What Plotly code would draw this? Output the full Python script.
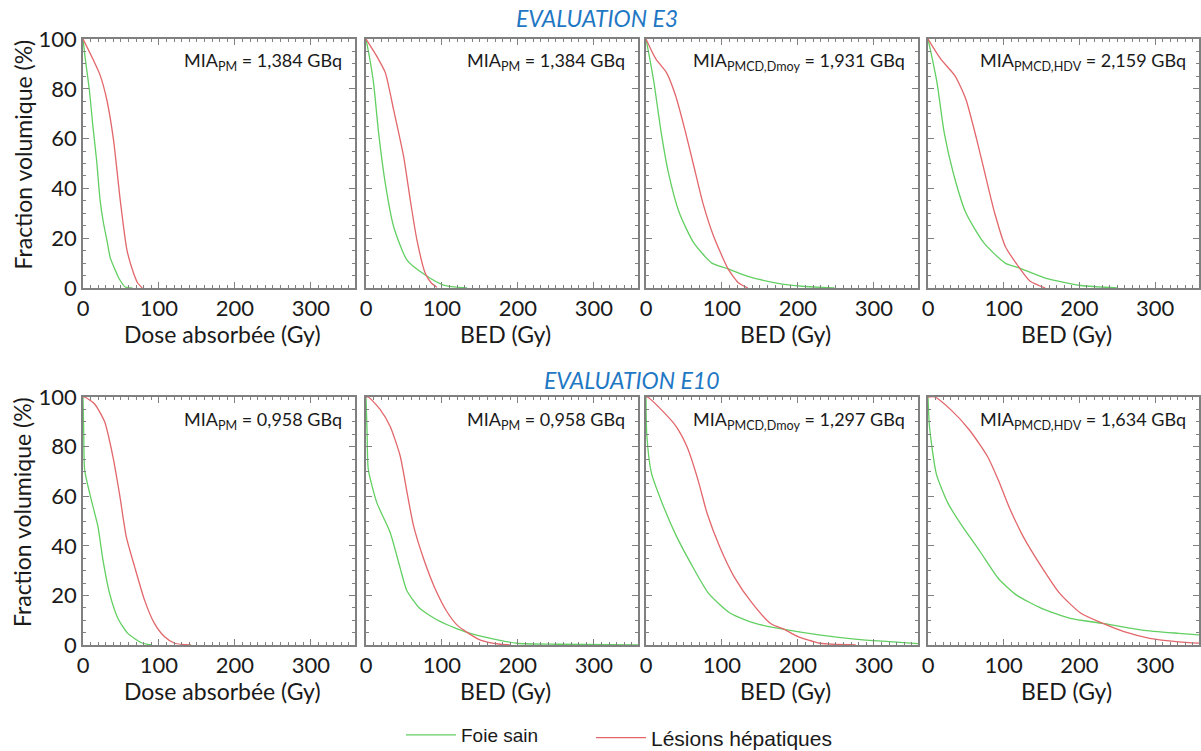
import plotly.graph_objects as go

W, H = 1201, 751

# ---------------- data ----------------
x_ticks = [0, 100, 200, 300]
y_ticks = [0, 20, 40, 60, 80, 100]

# E3 - Dose absorbée, MIA_PM
e3_dose_foie_x = [0, 3, 8.4, 13, 18, 22.5, 27, 31.4, 36, 42.4, 48, 55.6, 65]
e3_dose_foie_y = [100, 92, 79.5, 65, 51, 35.3, 26, 19.3, 12, 7.2, 3.5, 0.4, 0]
e3_dose_les_x = [0, 11.5, 22.5, 31.4, 40.2, 49, 57.8, 66.6, 72, 78]
e3_dose_les_y = [100, 92.9, 85.5, 75.5, 59.4, 35.3, 15.3, 5.9, 2, 0]

# E3 - BED, MIA_PM
e3_bedpm_foie_x = [0, 5, 10, 16.7, 25.4, 36.4, 54, 78, 102, 133]
e3_bedpm_foie_y = [100, 92, 82.2, 62, 42, 24.6, 11.2, 5.2, 1.2, 0]
e3_bedpm_les_x = [0, 14.5, 25.4, 36.4, 49.6, 58.3, 67, 78, 86, 93.4]
e3_bedpm_les_y = [100, 92.9, 86.5, 71.5, 52.7, 35.3, 19.3, 5.9, 2, 0.3]

# E3 - BED, MIA_PMCD,Dmoy
e3_dmoy_foie_x = [0, 5, 10.5, 20, 29.5, 43.8, 62.9, 86.7, 108, 134, 172, 206, 248]
e3_dmoy_foie_y = [100, 92, 82.5, 62.4, 46.3, 30.2, 18.1, 10, 7.7, 4.7, 2, 0.7, 0]
e3_dmoy_les_x = [0, 12.9, 27, 39, 51, 62.9, 74.8, 89, 108, 122, 134]
e3_dmoy_les_y = [100, 92, 86.5, 77.2, 63.8, 49, 34.2, 20.8, 7.7, 2, 0]

# E3 - BED, MIA_PMCD,HDV
e3_hdv_foie_x = [0, 5, 11.9, 21.4, 33.3, 50, 73.8, 102, 121, 155, 202, 250]
e3_hdv_foie_y = [100, 93, 82.5, 62.4, 46.3, 30.2, 18.1, 10, 8, 4, 1, 0]
e3_hdv_les_x = [0, 16.7, 35.7, 50, 64.3, 76, 88, 102, 121, 135, 155]
e3_hdv_les_y = [100, 92, 85.2, 75.8, 59.7, 45, 30.2, 16.8, 8, 2.7, 0]

# E10 - Dose absorbée, MIA_PM
e10_dose_foie_x = [0, 1, 2.2, 11, 19.7, 26.3, 35, 46, 59, 76.8, 90]
e10_dose_foie_y = [100, 85, 70.5, 58.4, 47.7, 34.2, 20.8, 10.7, 4.7, 0.9, 0]
e10_dose_les_x = [0, 2, 15, 28.5, 39.5, 48, 57, 68, 81, 94, 107, 120.6, 142]
e10_dose_les_y = [100, 100, 97.3, 90, 75.8, 61, 43.6, 31.5, 18.1, 8.7, 3.4, 0.7, 0]

# E10 - BED, MIA_PM
e10_bedpm_foie_x = [0, 1.5, 3, 14.1, 31.7, 45, 53.7, 71, 98, 133, 164, 199, 252, 360]
e10_bedpm_foie_y = [100, 85, 70.9, 57.5, 45.5, 31, 22, 14.7, 9.4, 5.1, 2.7, 0.7, 0.3, 0]
e10_bedpm_les_x = [0, 3, 18.5, 31.7, 45, 54, 62.6, 75.8, 91, 106.6, 120, 133, 150.6, 177, 190]
e10_bedpm_les_y = [100, 100, 95, 88.2, 76.2, 61.5, 48, 34.8, 22.7, 13.4, 8, 5.1, 2, 0.3, 0]

# E10 - BED, MIA_PMCD,Dmoy
e10_dmoy_foie_x = [0, 1, 7, 21, 40, 59, 82.4, 111, 144, 182, 230, 278, 325, 360]
e10_dmoy_foie_y = [100, 85, 69.5, 57.4, 43.9, 32.9, 20.8, 12.8, 8.7, 6.3, 4, 2.3, 1.3, 0.5]
e10_dmoy_les_x = [0, 2, 21, 40, 54, 68.6, 80.5, 97, 116, 140, 164, 182, 200, 229, 276]
e10_dmoy_les_y = [100, 100, 94.6, 88, 79.9, 66.4, 53, 39.6, 27.5, 16.8, 8.7, 6.3, 3.4, 0.7, 0]

# E10 - BED, MIA_PMCD,HDV
e10_hdv_foie_x = [0, 2, 11, 26, 45, 69, 93, 117, 150, 188, 231, 283, 331, 362]
e10_hdv_foie_y = [100, 88, 69, 57.4, 48, 37.6, 26.8, 20.1, 14.8, 10.7, 8.7, 6, 4.7, 4]
e10_hdv_les_x = [0, 9, 31, 55, 79, 93, 107, 126, 150, 174, 202, 231, 259, 293, 331, 362]
e10_hdv_les_y = [100, 100, 94.6, 86.6, 75.8, 66.4, 55.7, 43.6, 31.5, 20.8, 12.8, 8.7, 5.4, 2.7, 1.3, 0.7]

panel_labels = [
    "MIA<sub>PM</sub> = 1,384 GBq", "MIA<sub>PM</sub> = 1,384 GBq",
    "MIA<sub>PMCD,Dmoy</sub> = 1,931 GBq", "MIA<sub>PMCD,HDV</sub> = 2,159 GBq",
    "MIA<sub>PM</sub> = 0,958 GBq", "MIA<sub>PM</sub> = 0,958 GBq",
    "MIA<sub>PMCD,Dmoy</sub> = 1,297 GBq", "MIA<sub>PMCD,HDV</sub> = 1,634 GBq",
]
x_titles = ["Dose absorbée (Gy)", "BED (Gy)", "BED (Gy)", "BED (Gy)"]
row_titles = ["EVALUATION E3", "EVALUATION E10"]
y_title = "Fraction volumique (%)"
series_names = ["Foie sain", "Lésions hépatiques"]

panels = [
    (e3_dose_foie_x, e3_dose_foie_y, e3_dose_les_x, e3_dose_les_y),
    (e3_bedpm_foie_x, e3_bedpm_foie_y, e3_bedpm_les_x, e3_bedpm_les_y),
    (e3_dmoy_foie_x, e3_dmoy_foie_y, e3_dmoy_les_x, e3_dmoy_les_y),
    (e3_hdv_foie_x, e3_hdv_foie_y, e3_hdv_les_x, e3_hdv_les_y),
    (e10_dose_foie_x, e10_dose_foie_y, e10_dose_les_x, e10_dose_les_y),
    (e10_bedpm_foie_x, e10_bedpm_foie_y, e10_bedpm_les_x, e10_bedpm_les_y),
    (e10_dmoy_foie_x, e10_dmoy_foie_y, e10_dmoy_les_x, e10_dmoy_les_y),
    (e10_hdv_foie_x, e10_hdv_foie_y, e10_hdv_les_x, e10_hdv_les_y),
]

# ---------------- layout geometry (pixels) ----------------
col_px = [(83, 355), (366, 638), (646, 918), (928, 1199)]
row_px = [(39, 288), (397, 645)]

GREEN = "#62cf62"
RED = "#e2666a"
FRAME = "#808080"
FONT = "Lato"
TXT = "#1a1a1a"
BLUE = "#1f78c4"


def px_x(p):
    return p / W


def px_y(p):
    return (H - p) / H


fig = go.Figure()
layout = dict(
    template="none",
    width=W, height=H,
    margin=dict(l=0, r=0, t=0, b=0, pad=0, autoexpand=False),
    paper_bgcolor="white", plot_bgcolor="white",
    font=dict(family=FONT, color=TXT),
    showlegend=True,
)
annotations = []

for i, (fx, fy, lx, ly) in enumerate(panels):
    r, c = divmod(i, 4)
    idx = i + 1
    xa = "x" if idx == 1 else f"x{idx}"
    ya = "y" if idx == 1 else f"y{idx}"
    fig.add_trace(go.Scatter(
        x=fx, y=fy, mode="lines", name=series_names[0],
        line=dict(color=GREEN, width=1.3, shape="spline", smoothing=0.6),
        xaxis=xa, yaxis=ya, showlegend=(i == 0), legend="legend"))
    fig.add_trace(go.Scatter(
        x=lx, y=ly, mode="lines", name=series_names[1],
        line=dict(color=RED, width=1.3, shape="spline", smoothing=0.6),
        xaxis=xa, yaxis=ya, showlegend=(i == 0), legend="legend2"))

    x0, x1 = col_px[c]
    y0, y1 = row_px[r]
    common = dict(
        showline=True, linecolor=FRAME, linewidth=1.5, mirror="allticks",
        ticks="inside", ticklen=6, tickwidth=1.2, tickcolor=FRAME,
        showgrid=False, zeroline=False, automargin=False,
        tickfont=dict(family=FONT, size=22, color=TXT),
    )
    layout["xaxis" if idx == 1 else f"xaxis{idx}"] = dict(
        common, domain=[px_x(x0), px_x(x1)], range=[0, 358],
        tickvals=x_ticks, anchor=ya,
        minor=dict(ticks="inside", ticklen=3, tickwidth=1, tickcolor=FRAME,
                   dtick=10, tick0=0, showgrid=False),
    )
    layout["yaxis" if idx == 1 else f"yaxis{idx}"] = dict(
        common, domain=[px_y(y1), px_y(y0)], range=[0, 100],
        tickvals=y_ticks, anchor=xa, showticklabels=(c == 0),
        minor=dict(ticks="inside", ticklen=3, tickwidth=1, tickcolor=FRAME,
                   dtick=5, tick0=0, showgrid=False),
    )
    # panel label
    annotations.append(dict(
        text=panel_labels[i], xref="paper", yref="paper",
        x=px_x(x1 - 11), y=px_y(y0 + 23), xanchor="right", yanchor="middle",
        showarrow=False, font=dict(family=FONT, size=18, color=TXT)))
    # x title
    annotations.append(dict(
        text=x_titles[c], xref="paper", yref="paper",
        x=px_x((x0 + x1) / 2 + 3), y=px_y(y1 + 46), xanchor="center", yanchor="middle",
        showarrow=False, font=dict(family=FONT, size=23, color=TXT)))

# y titles
for (y0, y1) in row_px:
    annotations.append(dict(
        text=y_title, xref="paper", yref="paper", textangle=-90,
        x=px_x(22), y=px_y((y0 + y1) / 2 - 9), xanchor="center", yanchor="middle",
        showarrow=False, font=dict(family=FONT, size=23, color=TXT)))

# row titles
annotations.append(dict(
    text="<i>" + row_titles[0] + "</i>", xref="paper", yref="paper",
    x=px_x(597), y=px_y(18), xanchor="center", yanchor="middle",
    showarrow=False, font=dict(family=FONT, size=23, color=BLUE)))
annotations.append(dict(
    text="<i>" + row_titles[1] + "</i>", xref="paper", yref="paper",
    x=px_x(632), y=px_y(380), xanchor="center", yanchor="middle",
    showarrow=False, font=dict(family=FONT, size=23, color=BLUE)))

layout["annotations"] = annotations
layout["legend"] = dict(
    orientation="h", xref="container", yref="container",
    x=px_x(401), y=px_y(735), xanchor="left", yanchor="middle",
    font=dict(family="Liberation Sans", size=19, color=TXT),
    bgcolor="rgba(0,0,0,0)", itemwidth=50,
)
layout["legend2"] = dict(
    orientation="h", xref="container", yref="container",
    x=px_x(591), y=px_y(738), xanchor="left", yanchor="middle",
    font=dict(family="Liberation Sans", size=21, color=TXT),
    bgcolor="rgba(0,0,0,0)", itemwidth=50,
)
fig.update_layout(**layout)
fig.write_html(
    "out.html",
    config={"displayModeBar": False},
    post_script="document.body.style.margin='0';document.body.style.overflow='hidden';",
)
